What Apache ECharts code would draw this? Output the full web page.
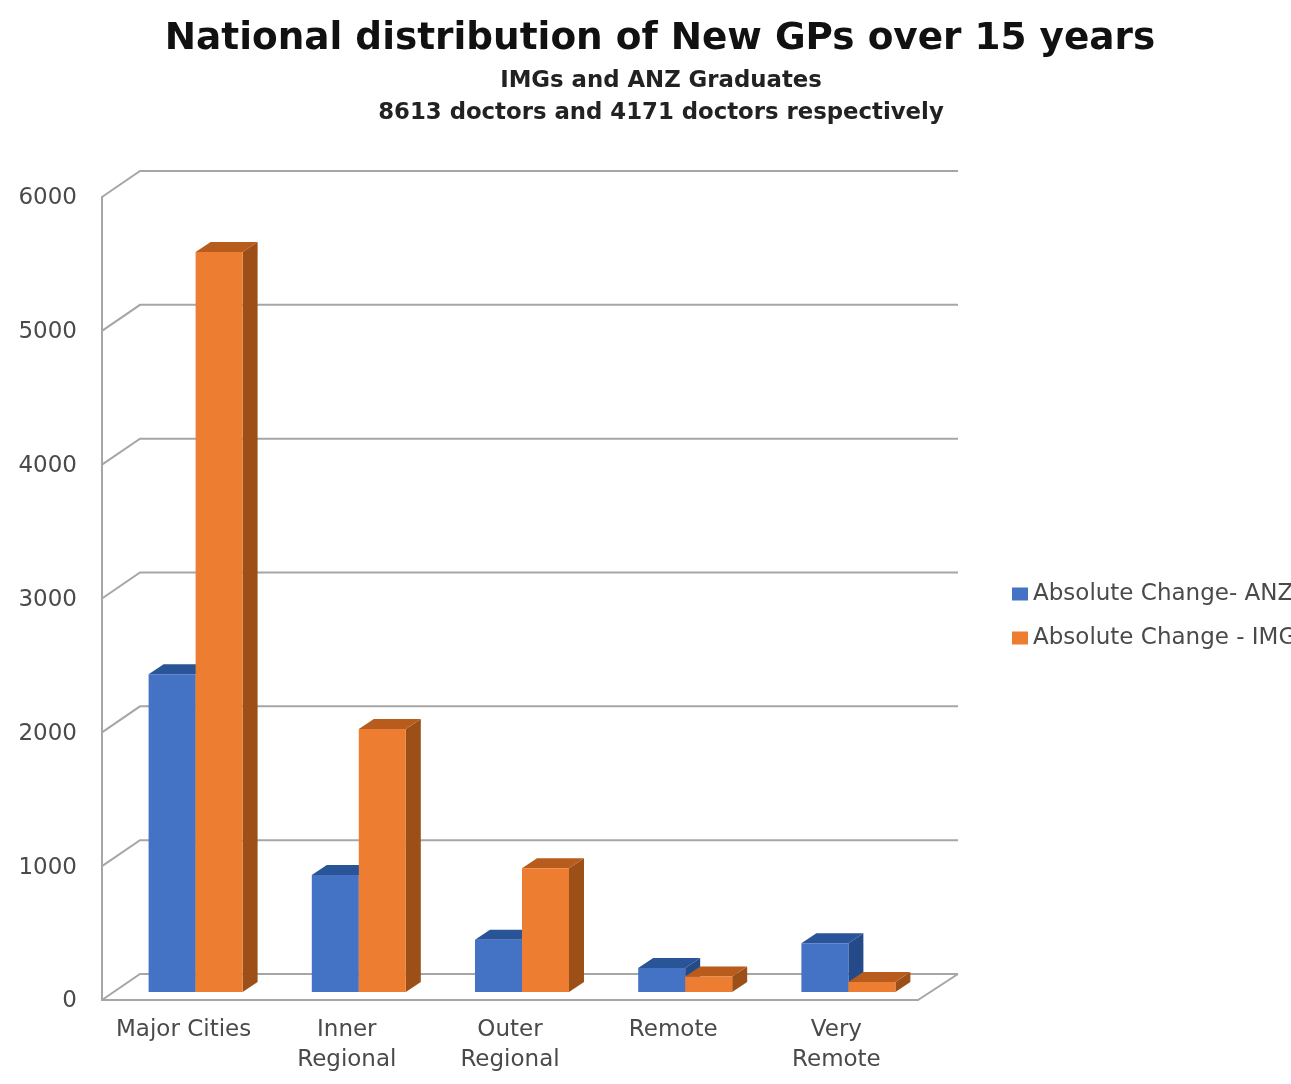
<!DOCTYPE html>
<html>
<head>
<meta charset="utf-8">
<title>National distribution of New GPs over 15 years</title>
<style>html,body{margin:0;padding:0;background:#fff}#chart{width:1291px;height:1084px}</style>
<script src="https://cdn.jsdelivr.net/npm/echarts@6/dist/echarts.min.js"></script>
</head>
<body>
<div id="chart"></div>
<script>
const categories = ['Major Cities', 'Inner\nRegional', 'Outer\nRegional', 'Remote', 'Very\nRemote'];
const anzValues = [2375, 875, 390, 180, 365];
const imgValues = [5530, 1965, 925, 115, 75];
const valueTicks = [0, 1000, 2000, 3000, 4000, 5000, 6000];
const anzName = 'Absolute Change- ANZ';
const imgName = 'Absolute Change - IMG';

// Pseudo-3D projection: the chart box recedes up and to the right.
const WALL_DX = 38, WALL_DY = -26, WALL_EXTRA = 2;
const BAR_INSET_DX = 12, BAR_INSET_DY = -8;
const BAR_DX = 15, BAR_DY = -10;
const BAR_BAND_RATIO = 0.288;
const FRAME = '#a6a6a6';

function wallLine(params, api) {
  const v = api.value(0);
  const cs = params.coordSys;
  const y = api.coord([0, v])[1];
  const backRight = cs.x + cs.width + WALL_DX + WALL_EXTRA;
  const points = [[cs.x, y], [cs.x + WALL_DX, y + WALL_DY], [backRight, y + WALL_DY]];
  const children = [{ type: 'polyline', shape: { points }, style: { stroke: FRAME, lineWidth: 2, fill: null } }];
  if (v === 0) {
    children.push({
      type: 'line',
      shape: { x1: cs.x + cs.width, y1: y, x2: backRight, y2: y + WALL_DY },
      style: { stroke: FRAME, lineWidth: 2 }
    });
  }
  return { type: 'group', children };
}

function prismBar(sideIndex, front, top, side) {
  return function (params, api) {
    const idx = api.value(0);
    const base = api.coord([idx, 0]);
    const tip = api.coord([idx, api.value(1)]);
    const w = api.size([1, 0])[0] * BAR_BAND_RATIO;
    const x0 = base[0] + BAR_INSET_DX + (sideIndex - 1) * w;
    const x1 = x0 + w;
    const yB = base[1] + BAR_INSET_DY;
    const yT = tip[1] + BAR_INSET_DY;
    const poly = (points, fill) => ({ type: 'polygon', shape: { points }, style: { fill, stroke: null } });
    return {
      type: 'group',
      children: [
        poly([[x1, yB], [x1 + BAR_DX, yB + BAR_DY], [x1 + BAR_DX, yT + BAR_DY], [x1, yT]], side),
        poly([[x0, yT], [x0 + BAR_DX, yT + BAR_DY], [x1 + BAR_DX, yT + BAR_DY], [x1, yT]], top),
        { type: 'rect', shape: { x: x0, y: yT, width: w, height: yB - yT }, style: { fill: front } }
      ]
    };
  };
}

const chart = echarts.init(document.getElementById('chart'), null, { renderer: 'canvas' });
chart.setOption({
  animation: false,
  backgroundColor: '#fff',
  title: [
    {
      text: 'National distribution of New GPs over 15 years',
      left: 655, top: 16, textAlign: 'center',
      textStyle: { fontFamily: 'DejaVu Sans', fontWeight: 'bold', fontSize: 37.4, color: '#111' }
    },
    {
      text: 'IMGs and ANZ Graduates\n8613 doctors and 4171 doctors respectively',
      left: 656, top: 60, textAlign: 'center',
      textStyle: { fontFamily: 'DejaVu Sans', fontWeight: 'bold', fontSize: 22.8, lineHeight: 32, color: '#222' }
    }
  ],
  legend: {
    orient: 'vertical',
    left: 1007, top: 577,
    itemWidth: 16, itemHeight: 13, itemGap: 20,
    icon: 'rect',
    data: [anzName, imgName],
    textStyle: { fontFamily: 'DejaVu Sans', fontSize: 23, lineHeight: 24, color: '#4a4a4a' }
  },
  grid: { left: 102, top: 197, width: 816, height: 803 },
  xAxis: {
    type: 'category',
    data: categories,
    axisLine: { show: true, lineStyle: { color: FRAME, width: 2 } },
    axisTick: { show: false },
    axisLabel: { margin: 15, fontFamily: 'DejaVu Sans', fontSize: 23, lineHeight: 30, color: '#4a4a4a', interval: 0 }
  },
  yAxis: {
    type: 'value',
    min: 0, max: 6000, interval: 1000,
    axisLine: { show: true, lineStyle: { color: FRAME, width: 2 } },
    axisTick: { show: false },
    splitLine: { show: false },
    axisLabel: {
      margin: 25, fontFamily: 'DejaVu Sans', fontSize: 23, color: '#4a4a4a',
      verticalAlign: 'top', lineHeight: 3,
      formatter: v => String(v)
    }
  },
  series: [
    {
      type: 'custom', name: 'walls', silent: true, z: 1,
      data: valueTicks.map(v => [v]),
      encode: { y: 0 },
      renderItem: wallLine
    },
    {
      type: 'custom', name: anzName, z: 2,
      itemStyle: { color: '#4472c4' },
      data: anzValues.map((v, i) => [i, v]),
      encode: { x: 0, y: 1 },
      renderItem: prismBar(0, '#4472c4', '#2a5498', '#254a8a')
    },
    {
      type: 'custom', name: imgName, z: 3,
      itemStyle: { color: '#ed7d31' },
      data: imgValues.map((v, i) => [i, v]),
      encode: { x: 0, y: 1 },
      renderItem: prismBar(1, '#ed7d31', '#b85c1e', '#9c5018')
    }
  ]
});
</script>
</body>
</html>
